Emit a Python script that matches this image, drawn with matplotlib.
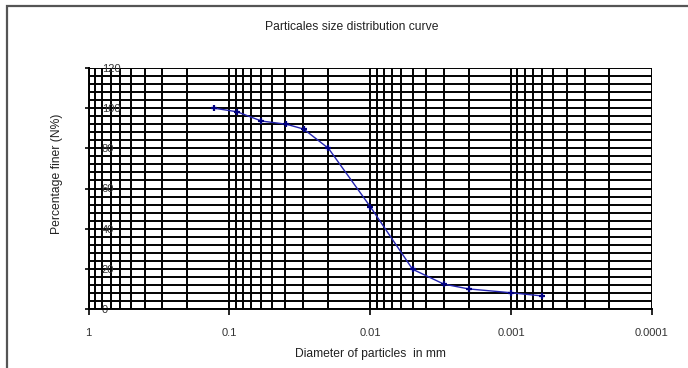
import matplotlib
matplotlib.use("Agg")
import matplotlib.pyplot as plt
from matplotlib.ticker import LogLocator, MultipleLocator, FixedLocator, FixedFormatter
from matplotlib.patches import Rectangle

# Data
diameter_mm = [0.129, 0.0883, 0.0593, 0.0394, 0.0297, 0.0198, 0.0100,
               0.0050, 0.0030, 0.0020, 0.0010, 0.0006]
percent_finer = [100, 98.2, 93.6, 92.0, 89.6, 80.0, 51.0,
                 19.8, 12.4, 10.0, 8.1, 6.5]

x_ticks = [1, 0.1, 0.01, 0.001, 0.0001]
x_tick_labels = ["1", "0.1", "0.01", "0.001", "0.0001"]
y_ticks = [0, 20, 40, 60, 80, 100, 120]

title = "Particales size distribution curve"
x_label = "Diameter of particles  in mm"
y_label = "Percentage finer (N%)"

plt.rcParams['font.family'] = ['Liberation Sans', 'DejaVu Sans']

W, H = 688, 368
fig = plt.figure(figsize=(W / 100, H / 100), dpi=100)
fig.patch.set_facecolor('white')

# outer chart border (extends beyond the right/bottom of image)
fig.patches.append(Rectangle((7 / W, -0.05), 1.2, 1 - 6 / H + 0.05,
                             transform=fig.transFigure, fill=False,
                             edgecolor='#555555', linewidth=1.6))

left, right, top, bottom = 88.7, 651.7, 68, 309
ax = fig.add_axes([left / W, 1 - bottom / H, (right - left) / W, (bottom - top) / H])

ax.set_xscale('log')
ax.set_xlim(1, 0.0001)
ax.set_ylim(0, 120)

ax.xaxis.set_major_locator(FixedLocator(x_ticks))
ax.xaxis.set_major_formatter(FixedFormatter(x_tick_labels))
ax.xaxis.set_minor_locator(LogLocator(base=10, subs=range(2, 10), numticks=50))
ax.xaxis.set_minor_formatter(FixedFormatter([]))
ax.yaxis.set_major_locator(FixedLocator(y_ticks))
ax.yaxis.set_minor_locator(MultipleLocator(4))

ax.grid(True, which='both', axis='both', color='black', linewidth=1.4)
ax.set_axisbelow(True)

ax.plot(diameter_mm, percent_finer, color='#2424b0', linewidth=1.0,
        marker='+', markersize=5, markeredgewidth=1.6,
        markeredgecolor='#000080', zorder=5)

for s in ['top', 'right']:
    ax.spines[s].set_visible(False)
for s in ['left', 'bottom']:
    ax.spines[s].set_color('black')
    ax.spines[s].set_linewidth(1.4)

ax.tick_params(axis='x', which='major', direction='out', length=4, width=1.2,
               pad=10, labelsize=8, labelcolor='#333333')
ax.tick_params(axis='x', which='minor', length=0)
ax.tick_params(axis='y', which='major', direction='out', length=3, width=1.2,
               pad=-12.4, labelsize=8, labelcolor='#333333')
ax.tick_params(axis='y', which='minor', length=0)
for lbl in ax.get_yticklabels():
    lbl.set_horizontalalignment('left')

fig.text(352 / W, 1 - 27 / H, title, ha='center', va='center', fontsize=8.7, color='#222222')
fig.text(370 / W, 1 - 354 / H, x_label, ha='center', va='center', fontsize=8.7, color='#222222')
fig.text(57 / W, 1 - 174 / H, y_label, ha='center', va='center', rotation=90,
         fontsize=8.7, color='#222222')

fig.savefig('out.png', dpi=100)
